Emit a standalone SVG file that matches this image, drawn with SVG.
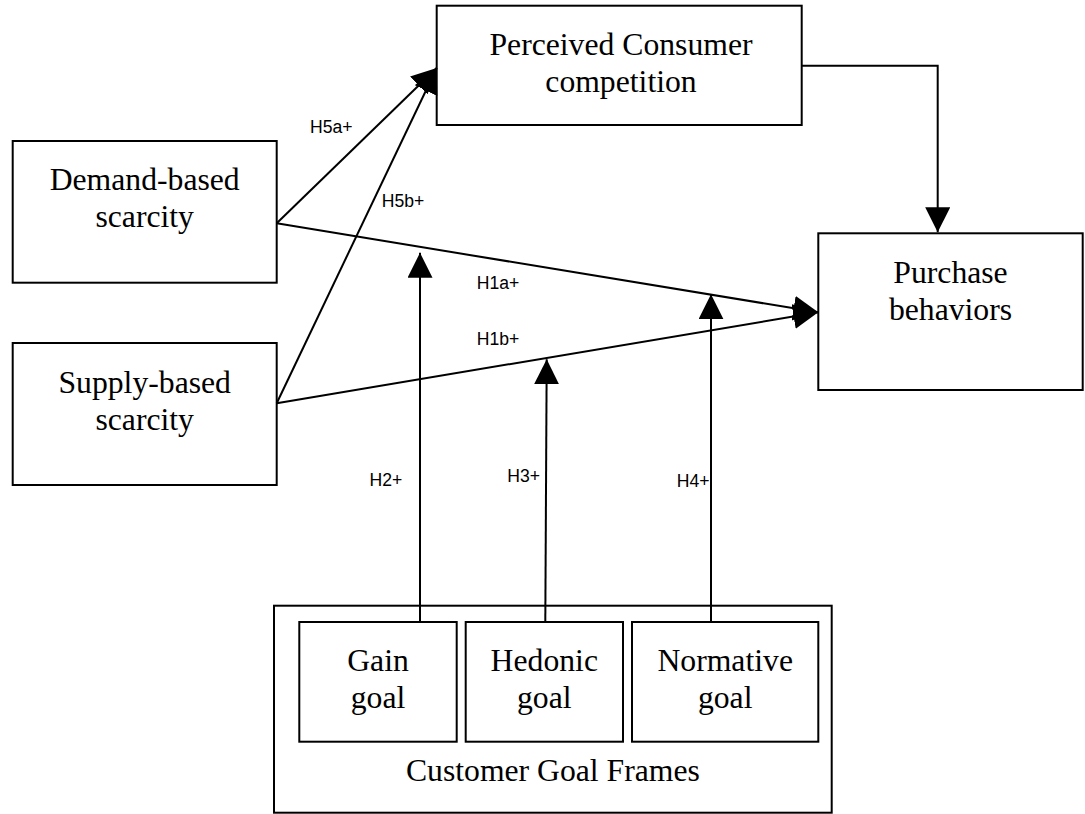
<svg xmlns="http://www.w3.org/2000/svg" width="1085" height="814" viewBox="0 0 1085 814">
<defs>
<style>
.box{fill:#fff;stroke:#000;stroke-width:2}
.t{font-family:"Liberation Serif","Times New Roman",serif;font-size:31.7px;fill:#000;text-anchor:middle}
.lbl{font-family:"Liberation Sans",Arial,sans-serif;font-size:17.6px;fill:#000}
.ln{stroke:#000;stroke-width:2;fill:none}
</style>
<marker id="ah" markerUnits="userSpaceOnUse" markerWidth="26" markerHeight="26" refX="25" refY="12.5" orient="auto" viewBox="0 0 26 26">
<path d="M0,0 L25,12.5 L0,25 z" fill="#000"/>
</marker>
</defs>
<rect width="1085" height="814" fill="#fff"/>
<g id="pcc">
<rect class="box" x="436.7" y="5.7" width="365" height="119.3"/>
<text class="t" x="621" y="55">Perceived Consumer</text>
<text class="t" x="621" y="91.7">competition</text>
</g>
<g id="demand">
<rect class="box" x="12.7" y="141" width="264" height="141.7"/>
<text class="t" x="144.7" y="190">Demand-based</text>
<text class="t" x="144.7" y="227">scarcity</text>
</g>
<g id="supply">
<rect class="box" x="12.7" y="343" width="264" height="142"/>
<text class="t" x="144.7" y="393">Supply-based</text>
<text class="t" x="144.7" y="430">scarcity</text>
</g>
<g id="purchase">
<rect class="box" x="818.3" y="233.3" width="264.4" height="156.7"/>
<text class="t" x="950.5" y="283.3">Purchase</text>
<text class="t" x="950.5" y="320">behaviors</text>
</g>
<g id="goalframes">
<rect class="box" x="274" y="605.7" width="557.7" height="207"/>
<text class="t" x="552.9" y="780.7">Customer Goal Frames</text>
</g>
<g id="gain">
<rect class="box" x="299.3" y="622" width="157.4" height="119.7"/>
<text class="t" x="378" y="670.7">Gain</text>
<text class="t" x="378" y="708">goal</text>
</g>
<g id="hedonic">
<rect class="box" x="465.7" y="622" width="157.3" height="119.7"/>
<text class="t" x="544.3" y="670.7">Hedonic</text>
<text class="t" x="544.3" y="708">goal</text>
</g>
<g id="normative">
<rect class="box" x="632" y="622" width="186.3" height="119.7"/>
<text class="t" x="725.2" y="670.7">Normative</text>
<text class="t" x="725.2" y="708">goal</text>
</g>
<g id="connectors">
<line class="ln" x1="276.7" y1="223.3" x2="436.7" y2="68" marker-end="url(#ah)"/>
<line class="ln" x1="276.7" y1="403.3" x2="436.7" y2="68" marker-end="url(#ah)"/>
<line class="ln" x1="276.7" y1="223.3" x2="818.3" y2="312.3" marker-end="url(#ah)"/>
<line class="ln" x1="276.7" y1="403.3" x2="818.3" y2="312.3" marker-end="url(#ah)"/>
<polyline class="ln" points="801.7,65.7 937.7,65.7 937.7,232.3" marker-end="url(#ah)"/>
<line class="ln" x1="420" y1="622" x2="420" y2="252.7" marker-end="url(#ah)"/>
<line class="ln" x1="545.3" y1="622" x2="546.7" y2="359.3" marker-end="url(#ah)"/>
<line class="ln" x1="711" y1="622" x2="711" y2="294.3" marker-end="url(#ah)"/>
<text class="lbl" x="310" y="133">H5a+</text>
<text class="lbl" x="381.7" y="206.7">H5b+</text>
<text class="lbl" x="476.7" y="289">H1a+</text>
<text class="lbl" x="476.7" y="345">H1b+</text>
<text class="lbl" x="369.5" y="486">H2+</text>
<text class="lbl" x="507.3" y="482.3">H3+</text>
<text class="lbl" x="676.7" y="486.7">H4+</text>
</g>
</svg>
